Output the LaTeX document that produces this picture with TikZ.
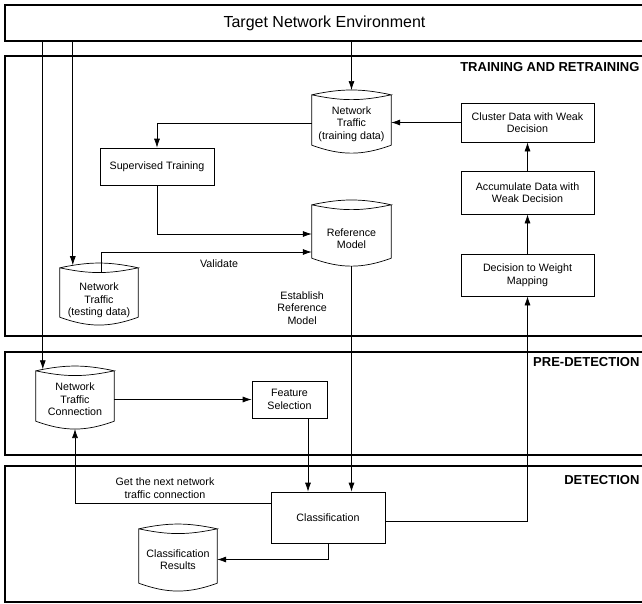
\documentclass[tikz,border=0pt]{standalone}
\usepackage{fontspec}
\setmainfont{Liberation Sans}
\usetikzlibrary{arrows.meta,positioning,calc}

\tikzset{
  txt/.style={font=\fontsize{10.7}{12.5}\selectfont, align=center},
  box/.style={txt, draw, line width=0.7pt, inner sep=0pt},
  % data store: #1 body height, #2 how far the outline sits above the text
  store/.style n args={2}{txt, inner sep=0pt, minimum width=79pt, minimum height=#1,
    append after command={\pgfextra{\let\cyl\tikzlastnode
      \draw[line width=0.7pt] ([yshift=#2]\cyl.north west) to[bend left=12] ([yshift=#2]\cyl.north east)
        to[bend left=12] ([yshift=#2]\cyl.north west) -- ([yshift=#2]\cyl.south west)
        to[bend right=20] ([yshift=#2]\cyl.south east) -- ([yshift=#2]\cyl.north east);}}},
  panel/.style={draw, line width=1.2pt, inner sep=0pt, minimum width=639pt},
  lanetitle/.style={font=\fontsize{13}{15}\selectfont\bfseries, anchor=base east, inner sep=0pt},
  flow/.style={-{Latex[length=9pt,width=6pt]}, line width=0.7pt},
}

\begin{document}
\begin{tikzpicture}[x=1pt, y=1pt]
	\useasboundingbox (0,0) rectangle (642,-603);
	% lanes
	\node[panel, minimum height=36pt, font=\fontsize{16}{18}\selectfont] (env) at (324.5,-23) {Target Network Environment};
	\node[panel, minimum height=280pt] (trainpanel) at (324.5,-196) {};
	\node[panel, minimum height=103pt] (predetpanel) at (324.5,-403.5) {};
	\node[panel, minimum height=136pt] (detpanel) at (324.5,-534) {};
	\node[lanetitle] (traintitle) at ([xshift=-5pt,yshift=-16pt]trainpanel.north east) {TRAINING AND RETRAINING};
	\node[lanetitle] (predettitle) at ([xshift=-5pt,yshift=-15pt]predetpanel.north east) {PRE-DETECTION};
	\node[lanetitle] (dettitle) at ([xshift=-5pt,yshift=-19pt]detpanel.north east) {DETECTION};

	% training and retraining
	\node[store={50pt}{4pt}] (trainstore) at (351.5,-124) {Network\\Traffic\\(training data)};
	\node[box, minimum width=133pt, minimum height=39pt] (cluster) at (527.5,-122.5) {Cluster Data with Weak\\Decision};
	\node[box, minimum width=133pt, minimum height=43pt] (accum) at (527.5,-192.5) {Accumulate Data with\\Weak Decision};
	\node[box, minimum width=133pt, minimum height=42pt] (weight) at (527.5,-275) {Decision to Weight\\Mapping};
	\node[box, minimum width=114pt, minimum height=37pt] (sup) at (157,-166.5) {Supervised Training};
	\node[store={53pt}{7pt}] (refmodel) at (351.5,-238.5) {Reference\\Model};
	\node[store={49pt}{8pt}, minimum width=78pt] (teststore) at (99,-300.5) {Network\\Traffic\\(testing data)};

	% pre-detection
	\node[store={50pt}{3.5pt}, minimum width=78pt] (ntc) at (75,-399.5) {Network\\Traffic\\Connection};
	\node[box, minimum width=75pt, minimum height=37pt] (featsel) at (289.5,-399.5) {Feature\\Selection};

	% detection
	\node[box, minimum width=114pt, minimum height=51pt] (classif) at (328,-517.5) {Classification};
	\node[store={54pt}{3.5pt}, minimum width=78pt] (results) at (178,-559.5) {Classification\\Results};

	% connectors
	\coordinate (ntcin) at ([xshift=7pt,yshift=5pt]ntc.north west);
	\coordinate (testin) at ([xshift=13pt,yshift=10.6pt]teststore.north west);
	\draw[flow] (env.south -| ntcin) -- (ntcin);
	\draw[flow] (env.south -| testin) -- (testin);
	\draw[flow] (env.south -| trainstore.north) -- ([yshift=8.8pt]trainstore.north);
	\draw[flow] (cluster.west) -- (cluster.west -| trainstore.east);
	\draw[flow] (accum.north) -- (cluster.south);
	\draw[flow] (weight.north) -- (accum.south);
	\draw[flow] ([yshift=1pt]trainstore.west) -| (sup.north);
	\draw[flow] (sup.south) |- ([yshift=4.5pt]refmodel.west);
	\draw[flow] ([xshift=2pt,yshift=3.5pt]teststore.north) |- node[txt, pos=0.78, below=4pt] {Validate} ([yshift=-13.5pt]refmodel.west);
	\draw[flow] ([yshift=-0.9pt]refmodel.south) -- node[txt, pos=0.185, left=21pt] {Establish\\Reference\\Model} (refmodel.south |- classif.north);
	\draw[flow] (featsel.west -| ntc.east) -- (featsel.west);
	\draw[flow] ([xshift=18.5pt]featsel.south) -- ([xshift=18.5pt]featsel.south |- classif.north);
	\draw[flow] ([yshift=14.5pt]classif.west) -| node[txt, pos=0.27, above=1pt] {Get the next network\\traffic connection} ([yshift=-4.3pt]ntc.south);
	\draw[flow] (classif.south) |- (results.east);
	\draw[flow] ([yshift=-3.5pt]classif.east) -| (weight.south);
\end{tikzpicture}
\end{document}
